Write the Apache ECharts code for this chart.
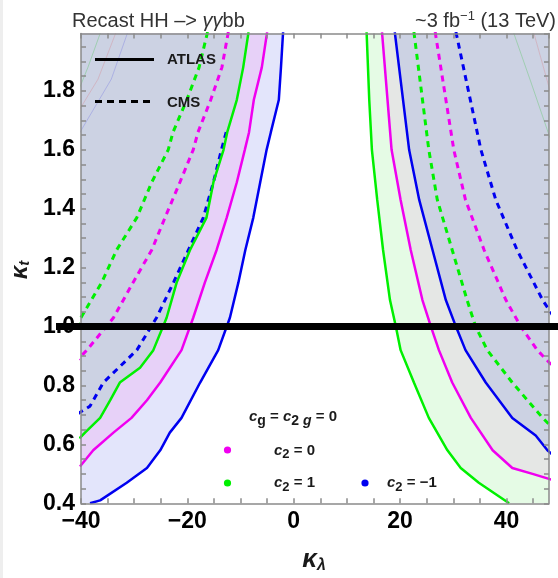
<!DOCTYPE html>
<html>
<head>
<meta charset="utf-8">
<script src="https://cdn.jsdelivr.net/npm/echarts@6/dist/echarts.min.js"></script>
<style>
  html, body { margin: 0; padding: 0; background: #ffffff; }
  #chart { width: 558px; height: 578px; }
</style>
</head>
<body>
<div id="chart"></div>
<script>
// Exclusion contours in the (κλ, κt) plane from the HH -> γγbb recast.
// Solid = ATLAS, dashed = CMS; colours encode the c2 coupling.

const X_MIN = -40, X_MAX = 48;
const Y_MIN = 0.4, Y_MAX = 1.995;

const xLabelValues = [-40, -20, 0, 20, 40];
const yLabelValues = [0.4, 0.6, 0.8, 1.0, 1.2, 1.4, 1.6, 1.8];

// ATLAS, left branch (top -> bottom), [κλ, κt]
const atlasM1Left = [[-2.0, 2.0], [-2.4, 1.88], [-2.8, 1.77], [-4.3, 1.66], [-5.1, 1.60], [-6.3, 1.49], [-7.6, 1.37], [-9.1, 1.26], [-10.4, 1.15], [-12.0, 1.03], [-14.2, 0.92], [-17.6, 0.81], [-21.1, 0.69], [-23.3, 0.64], [-25.1, 0.58], [-27.6, 0.52], [-31.4, 0.47], [-36.4, 0.41], [-38.3, 0.40]];
const atlasZeroLeft = [[-5.0, 2.0], [-6.0, 1.88], [-7.5, 1.77], [-8.4, 1.66], [-9.2, 1.60], [-10.7, 1.49], [-12.6, 1.37], [-14.5, 1.26], [-16.7, 1.15], [-18.9, 1.03], [-21.1, 0.92], [-25.1, 0.81], [-27.6, 0.75], [-30.5, 0.69], [-33.9, 0.64], [-37.7, 0.58], [-40.2, 0.525]];
const atlasP1Left = [[-8.5, 2.0], [-9.5, 1.88], [-10.7, 1.77], [-12.5, 1.66], [-13.2, 1.60], [-15.1, 1.49], [-16.4, 1.37], [-19.5, 1.26], [-22.0, 1.15], [-23.9, 1.03], [-26.4, 0.92], [-28.9, 0.86], [-32.7, 0.81], [-34.5, 0.75], [-36.4, 0.69], [-39.25, 0.64], [-40.3, 0.62]];

// ATLAS, right branch (top -> bottom)
const atlasP1Right = [[13.7, 2.0], [14.2, 1.77], [14.7, 1.60], [15.7, 1.43], [16.8, 1.26], [18.1, 1.09], [19.2, 1.00], [20.1, 0.92], [22.6, 0.81], [25.4, 0.69], [28.9, 0.58], [31.4, 0.52], [34.8, 0.47], [40.5, 0.40]];
const atlasZeroRight = [[16.6, 2.0], [18.4, 1.60], [20.1, 1.43], [22.0, 1.26], [24.2, 1.09], [25.8, 1.00], [27.3, 0.92], [29.8, 0.81], [33.3, 0.69], [37.4, 0.58], [41.1, 0.52], [44.9, 0.50], [48.5, 0.48]];
const atlasM1Right = [[19.0, 2.0], [21.7, 1.60], [23.6, 1.43], [26.1, 1.26], [28.6, 1.09], [30.5, 1.00], [32.3, 0.92], [36.1, 0.81], [41.1, 0.69], [45.5, 0.63], [47.7, 0.58], [49.0, 0.56]];

// CMS, left branch
const cmsM1Left = [[-12.7, 1.66], [-13.6, 1.60], [-15.1, 1.49], [-17.0, 1.37], [-19.8, 1.26], [-22.6, 1.15], [-25.8, 1.03], [-29.5, 0.92], [-35.8, 0.81], [-38.3, 0.73], [-41.0, 0.70]];
const cmsZeroLeft = [[-12.3, 2.0], [-13.5, 1.88], [-15.6, 1.77], [-18.0, 1.66], [-18.9, 1.60], [-21.4, 1.49], [-24.2, 1.37], [-26.7, 1.26], [-30.2, 1.15], [-33.9, 1.03], [-38.9, 0.92], [-41.0, 0.88]];
const cmsP1Left = [[-16.2, 2.0], [-17.8, 1.88], [-20.1, 1.77], [-22.7, 1.66], [-23.6, 1.60], [-26.7, 1.49], [-29.5, 1.37], [-33.3, 1.26], [-36.1, 1.15], [-39.7, 1.04], [-41.0, 1.00]];

// CMS, right branch
const cmsP1Right = [[22.6, 2.0], [25.4, 1.60], [27.0, 1.43], [29.8, 1.26], [32.6, 1.09], [34.2, 1.00], [36.4, 0.92], [41.1, 0.81], [46.8, 0.69], [49.0, 0.65]];
const cmsZeroRight = [[26.6, 2.0], [30.1, 1.60], [32.3, 1.43], [35.8, 1.26], [39.9, 1.09], [42.7, 1.00], [45.8, 0.92], [49.0, 0.86]];
const cmsM1Right = [[30.5, 2.0], [35.2, 1.60], [38.0, 1.43], [42.0, 1.26], [46.8, 1.09], [49.0, 1.03]];

// faint outer contours in the upper corners
const faintGreenLeft = [[-36.3, 2.0], [-38.7, 1.88], [-40.5, 1.80]];
const faintRedLeft = [[-33.4, 2.0], [-36.8, 1.84], [-40.5, 1.73]];
const faintBlueLeft = [[-31.2, 2.0], [-34.3, 1.84], [-40.5, 1.65]];
const faintGreenRight = [[41.3, 2.0], [44.6, 1.83], [48.2, 1.64]];
const faintRedRight = [[45.1, 2.0], [48.2, 1.80]];

// SM reference line κt = 1, running past the frame on both sides
const smLine = [[-44.7, 1.0], [62, 1.0]];

const FONT = 'Liberation Sans, Arial, Helvetica, sans-serif';
const GREEN = '#00f000', MAGENTA = '#f000f0', BLUE = '#0000f0';

function isLabelValue(list, v) {
  return list.some(function (t) { return Math.abs(t - v) < 1e-6; });
}

function fillSeries(points, color, z) {
  return {
    type: 'custom',
    coordinateSystem: 'cartesian2d',
    silent: true,
    z: z,
    data: [[0, 1]],
    renderItem: function (params, api) {
      const cs = params.coordSys;
      return {
        type: 'polygon',
        shape: { points: points.map(function (p) { return api.coord(p); }) },
        style: { fill: color },
        clipPath: { type: 'rect', shape: { x: cs.x, y: cs.y, width: cs.width, height: cs.height } }
      };
    }
  };
}

function curve(points, color, dashed, width, z) {
  return {
    type: 'line',
    data: points,
    showSymbol: false,
    symbol: 'none',
    silent: true,
    clip: true,
    z: z,
    lineStyle: {
      color: color,
      width: width,
      type: dashed ? [6, 5] : 'solid'
    }
  };
}

const leftTop = [[X_MIN - 1, 2.0]];
const rightTop = [[X_MAX + 1, 2.0]];

const series = [
  // left exclusion regions, outermost first
  fillSeries(leftTop.concat(atlasM1Left, [[X_MIN - 1, Y_MIN - 0.01]]), '#e3e5fb', 1),
  fillSeries(leftTop.concat(atlasZeroLeft), '#e7d1f8', 1),
  fillSeries(leftTop.concat(atlasP1Left), '#ccd2e3', 1),
  // right exclusion regions
  fillSeries(atlasP1Right.concat([[X_MAX + 1, Y_MIN - 0.01]], rightTop), '#e5fbe5', 1),
  fillSeries(atlasZeroRight.concat(rightTop), '#e5e7e5', 1),
  fillSeries(atlasM1Right.concat(rightTop), '#ccd2e3', 1),

  curve(faintGreenLeft, 'rgba(0,190,0,0.22)', false, 1, 2),
  curve(faintRedLeft, 'rgba(225,70,70,0.2)', false, 1, 2),
  curve(faintBlueLeft, 'rgba(30,30,230,0.18)', false, 1, 2),
  curve(faintGreenRight, 'rgba(0,190,0,0.22)', false, 1, 2),
  curve(faintRedRight, 'rgba(225,70,70,0.2)', false, 1, 2),

  curve(cmsP1Left, GREEN, true, 3, 3),
  curve(cmsZeroLeft, MAGENTA, true, 3, 3),
  curve(cmsM1Left, BLUE, true, 3, 3),
  curve(cmsP1Right, GREEN, true, 3, 3),
  curve(cmsZeroRight, MAGENTA, true, 3, 3),
  curve(cmsM1Right, BLUE, true, 3, 3),

  curve(atlasM1Left, BLUE, false, 2.5, 4),
  curve(atlasZeroLeft, MAGENTA, false, 2.5, 4),
  curve(atlasP1Left, GREEN, false, 2.5, 4),
  curve(atlasM1Right, BLUE, false, 2.5, 4),
  curve(atlasZeroRight, MAGENTA, false, 2.5, 4),
  curve(atlasP1Right, GREEN, false, 2.5, 4),

  // κt = 1 bar, drawn unclipped so it crosses the frame
  {
    type: 'custom',
    coordinateSystem: 'cartesian2d',
    silent: true,
    z: 8,
    data: [[0, 1]],
    renderItem: function (params, api) {
      const a = api.coord(smLine[0]);
      const b = api.coord(smLine[1]);
      return {
        type: 'line',
        shape: { x1: a[0], y1: a[1], x2: b[0], y2: b[1] },
        style: { stroke: '#000000', lineWidth: 7 }
      };
    }
  }
];

const axisLineStyle = { color: '#8a8a8a', width: 1.5 };

function xAxisDef(position, withLabels) {
  return {
    type: 'value',
    position: position,
    min: X_MIN,
    max: X_MAX,
    interval: 5,
    z: 6,
    splitLine: { show: false },
    axisLine: { show: true, onZero: false, lineStyle: axisLineStyle },
    axisTick: { show: true, inside: true, length: 5, lineStyle: axisLineStyle },
    axisLabel: {
      show: withLabels,
      margin: 7,
      fontFamily: FONT,
      fontSize: 23,
      fontWeight: 'bold',
      color: '#000000',
      showMaxLabel: false,
      formatter: function (v) {
        if (!isLabelValue(xLabelValues, v)) return '';
        return v < 0 ? '\u2212' + Math.abs(v) : String(v);
      }
    }
  };
}

function yAxisDef(position, withLabels) {
  return {
    type: 'value',
    position: position,
    min: Y_MIN,
    max: Y_MAX,
    interval: 0.05,
    z: 6,
    splitLine: { show: false },
    axisLine: { show: true, onZero: false, lineStyle: axisLineStyle },
    axisTick: { show: true, inside: true, length: 5, lineStyle: axisLineStyle },
    axisLabel: {
      show: withLabels,
      margin: 6,
      fontFamily: FONT,
      fontSize: 23,
      fontWeight: 'bold',
      color: '#000000',
      showMaxLabel: false,
      formatter: function (v) {
        return isLabelValue(yLabelValues, v) ? v.toFixed(1) : '';
      }
    }
  };
}

const txt = { fontFamily: FONT, fill: '#1a1a1a' };

const graphic = [
  { type: 'rect', z: 0, shape: { x: 0, y: 0, width: 3, height: 578 }, style: { fill: '#eeeeee' } },

  // header
  {
    type: 'text', x: 72, y: 21, z: 10,
    style: {
      text: '{a|Recast HH \u2013> }{g|\u03b3\u03b3}{a|bb}',
      verticalAlign: 'middle', align: 'left',
      rich: {
        a: { fontFamily: FONT, fontSize: 20, fill: '#333333' },
        g: { fontFamily: FONT, fontSize: 20, fontStyle: 'italic', fill: '#333333' }
      }
    }
  },
  {
    type: 'text', x: 556, y: 21, z: 10,
    style: {
      text: '{a|~3 fb}{s|\u22121}{a| (13 TeV)}',
      verticalAlign: 'middle', align: 'right',
      rich: {
        a: { fontFamily: FONT, fontSize: 20, fill: '#333333', lineHeight: 22 },
        s: { fontFamily: FONT, fontSize: 13, fill: '#333333', lineHeight: 14, padding: [0, 0, 10, 0] }
      }
    }
  },

  // experiment key
  { type: 'line', z: 10, shape: { x1: 95, y1: 59.5, x2: 154, y2: 59.5 }, style: { stroke: '#000000', lineWidth: 3 } },
  { type: 'line', z: 10, shape: { x1: 95, y1: 101.5, x2: 154, y2: 101.5 }, style: { stroke: '#000000', lineWidth: 3, lineDash: [7, 5] } },
  { type: 'text', x: 167, y: 60, z: 10, style: Object.assign({ text: 'ATLAS', fontSize: 15, fontWeight: 'bold', verticalAlign: 'middle' }, txt) },
  { type: 'text', x: 167, y: 102.5, z: 10, style: Object.assign({ text: 'CMS', fontSize: 15, fontWeight: 'bold', verticalAlign: 'middle' }, txt) },

  // coupling key
  {
    type: 'text', x: 249, y: 416.5, z: 10,
    style: {
      text: '{c|c}{s|g}{m| = }{c|c}{s|2 }{si|g}{m| = 0}',
      verticalAlign: 'middle',
      rich: {
        c: { fontFamily: FONT, fontSize: 15, fontWeight: 'bold', fontStyle: 'italic', fill: '#1a1a1a', lineHeight: 18 },
        m: { fontFamily: FONT, fontSize: 15, fontWeight: 'bold', fill: '#1a1a1a', lineHeight: 18 },
        s: { fontFamily: FONT, fontSize: 14, fontWeight: 'bold', fill: '#1a1a1a', lineHeight: 15, padding: [9, 0, 0, 0] },
        si: { fontFamily: FONT, fontSize: 14, fontWeight: 'bold', fontStyle: 'italic', fill: '#1a1a1a', lineHeight: 15, padding: [9, 0, 0, 0] }
      }
    }
  },
  { type: 'circle', z: 10, shape: { cx: 227.5, cy: 450, r: 3.6 }, style: { fill: MAGENTA } },
  { type: 'circle', z: 10, shape: { cx: 227.5, cy: 483, r: 3.6 }, style: { fill: GREEN } },
  { type: 'circle', z: 10, shape: { cx: 365, cy: 483, r: 3.6 }, style: { fill: BLUE } }
];

function c2Label(x, y, value) {
  return {
    type: 'text', x: x, y: y, z: 10,
    style: {
      text: '{c|c}{s|2}{m| = ' + value + '}',
      verticalAlign: 'middle',
      rich: {
        c: { fontFamily: FONT, fontSize: 15, fontWeight: 'bold', fontStyle: 'italic', fill: '#1a1a1a', lineHeight: 18 },
        m: { fontFamily: FONT, fontSize: 15, fontWeight: 'bold', fill: '#1a1a1a', lineHeight: 18 },
        s: { fontFamily: FONT, fontSize: 13, fontWeight: 'bold', fill: '#1a1a1a', lineHeight: 14, padding: [8, 0, 0, 0] }
      }
    }
  };
}
graphic.push(c2Label(274, 450.5, '0'));
graphic.push(c2Label(274, 483, '1'));
graphic.push(c2Label(387, 483, '\u22121'));

// axis titles
graphic.push({
  type: 'text', x: 314, y: 560, z: 10,
  style: {
    text: '{k|\u03ba}{l|\u03bb}',
    align: 'center', verticalAlign: 'middle',
    rich: {
      k: { fontFamily: FONT, fontSize: 26, fontWeight: 'bold', fontStyle: 'italic', fill: '#1a1a1a', lineHeight: 26 },
      l: { fontFamily: FONT, fontSize: 16, fontWeight: 'bold', fontStyle: 'italic', fill: '#1a1a1a', lineHeight: 16, padding: [12, 0, 0, 0] }
    }
  }
});
graphic.push({
  type: 'text', x: 20, y: 270, z: 10, rotation: Math.PI / 2,
  style: {
    text: '{k|\u03ba}{l|t}',
    align: 'center', verticalAlign: 'middle',
    rich: {
      k: { fontFamily: FONT, fontSize: 24, fontWeight: 'bold', fontStyle: 'italic', fill: '#1a1a1a', lineHeight: 24 },
      l: { fontFamily: FONT, fontSize: 15, fontWeight: 'bold', fontStyle: 'italic', fill: '#1a1a1a', lineHeight: 15, padding: [10, 0, 0, 0] }
    }
  }
});

const chart = echarts.init(document.getElementById('chart'), null, { renderer: 'canvas' });
chart.setOption({
  animation: false,
  backgroundColor: '#ffffff',
  grid: { left: 81, right: 9, top: 33.5, bottom: 74.7, containLabel: false, outerBoundsMode: 'none' },
  xAxis: [xAxisDef('bottom', true), xAxisDef('top', false)],
  yAxis: [yAxisDef('left', true), yAxisDef('right', false)],
  series: series,
  graphic: graphic
});
</script>
</body>
</html>
